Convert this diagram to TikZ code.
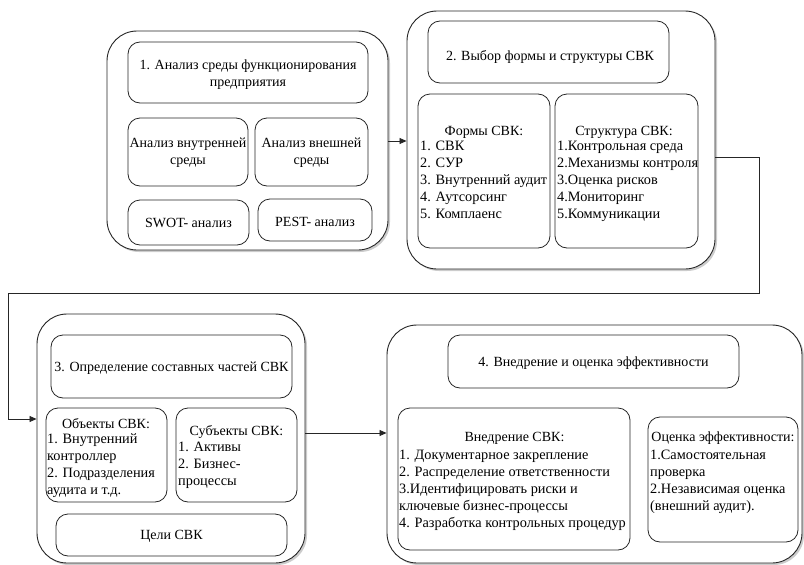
\documentclass[tikz,border=0pt]{standalone}
\usepackage{fontspec}
\setmainfont{Liberation Serif}
\usetikzlibrary{arrows.meta,shadows}
\begin{document}
\begin{tikzpicture}[x=1pt,y=-1pt,
  outerbox/.style={draw=black!85, line width=0.9pt, rounded corners=30pt, fill=white,
    drop shadow={shadow xshift=2pt, shadow yshift=-2pt, fill=black!40}},
  innerbox/.style={draw=black!85, line width=0.8pt, rounded corners=12pt, fill=white},
  lbl/.style={font=\fontsize{14}{17}\selectfont, inner sep=0pt, align=center},
  lst/.style={font=\fontsize{14.3}{17}\selectfont, inner sep=0pt, align=left, anchor=north west},
  flow/.style={draw=black!85, line width=0.8pt, -{Triangle[length=7pt,width=6pt]}}]
\useasboundingbox (0,0) rectangle (804,565);

% stage containers
\node[outerbox, minimum width=281pt, minimum height=219pt] (s1) at (247.5,140.5) {};
\node[outerbox, minimum width=308pt, minimum height=258pt] (s2) at (561,140) {};
\node[outerbox, minimum width=268pt, minimum height=249pt] (s3) at (171,438.5) {};
\node[outerbox, minimum width=415pt, minimum height=238pt] (s4) at (594.5,444) {};

% stage 1
\node[innerbox, minimum width=240pt, minimum height=61pt] (b1t) at (248,72.5) {};
\node[innerbox, minimum width=120pt, minimum height=68pt] (b1a) at (188,152) {};
\node[innerbox, minimum width=113pt, minimum height=68pt] (b1b) at (311.5,152) {};
\node[innerbox, minimum width=121pt, minimum height=45pt] (b1c) at (188.5,222.5) {};
\node[innerbox, minimum width=114pt, minimum height=42pt] (b1d) at (315,220) {};
\node[lbl] (t1t) at (248,75) {1. Анализ среды функционирования\\предприятия};
\node[lbl] (t1a) at (188,153) {Анализ внутренней\\среды};
\node[lbl] (t1b) at (311.5,153) {Анализ внешней\\среды};
\node[lbl] (t1c) at (188.5,223) {SWOT- анализ};
\node[lbl] (t1d) at (315,222) {PEST- анализ};

% stage 2
\node[innerbox, minimum width=241pt, minimum height=62pt] (b2t) at (548.5,52) {};
\node[innerbox, minimum width=132pt, minimum height=154pt] (b2a) at (484,171) {};
\node[innerbox, minimum width=143pt, minimum height=154pt] (b2b) at (626.5,171) {};
\node[lbl] (t2t) at (550,57) {2. Выбор формы и структуры СВК};
\node[lbl] (h2a) at (484,132) {Формы СВК:};
\node[lst] (l2a) at (420,141) {1. СВК\\2. СУР\\3. Внутренний аудит\\4. Аутсорсинг\\5. Комплаенс};
\node[lbl] (h2b) at (624,132) {Структура СВК:};
\node[lst] (l2b) at (557,141) {1.Контрольная среда\\2.Механизмы контроля\\3.Оценка рисков\\4.Мониторинг\\5.Коммуникации};

% stage 3
\node[innerbox, minimum width=241pt, minimum height=63pt] (b3t) at (171.5,366.5) {};
\node[innerbox, minimum width=121pt, minimum height=94pt] (b3a) at (106.5,455) {};
\node[innerbox, minimum width=121pt, minimum height=94pt] (b3b) at (236.5,455) {};
\node[innerbox, minimum width=231pt, minimum height=42pt] (b3c) at (171.5,535) {};
\node[lbl] (t3t) at (171.5,368) {3. Определение составных частей СВК};
\node[lbl] (h3a) at (106,424) {Объекты СВК:};
\node[lst] (l3a) at (47,434) {1. Внутренний\\контроллер\\2. Подразделения\\аудита и т.д.};
\node[lbl] (h3b) at (236.5,432) {Субъекты СВК:};
\node[lst] (l3b) at (178,442) {1. Активы\\2. Бизнес-\\процессы};
\node[lbl] (t3c) at (171.5,536) {Цели СВК};

% stage 4
\node[innerbox, minimum width=291pt, minimum height=53pt] (b4t) at (593.5,361.5) {};
\node[innerbox, minimum width=232pt, minimum height=142pt] (b4a) at (514,479) {};
\node[innerbox, minimum width=150pt, minimum height=125pt] (b4b) at (723,479.5) {};
\node[lbl] (t4t) at (593.5,363) {4. Внедрение и оценка эффективности};
\node[lbl] (h4a) at (514.5,438) {Внедрение СВК:};
\node[lst] (l4a) at (399,450) {1. Документарное закрепление\\2. Распределение ответственности\\3.Идентифицировать риски и\\ключевые бизнес-процессы\\4. Разработка контрольных процедур};
\node[lbl] (h4b) at (723,438) {Оценка эффективности:};
\node[lst] (l4b) at (650,450) {1.Самостоятельная\\проверка\\2.Независимая оценка\\(внешний аудит).};

% connectors between stages
\coordinate (a1) at (0,141);
\coordinate (c1) at (759,157);
\coordinate (r1) at (759,293);
\coordinate (r2) at (8,419);
\coordinate (a2) at (0,433);
\draw[flow] (s1.east |- a1) -- (s2.west |- a1);
\draw[flow] (s2.east |- c1) -- (c1) -- (r1) -| (r2) -- (r2 -| s3.west);
\draw[flow] (s3.east |- a2) -- (s4.west |- a2);
\end{tikzpicture}
\end{document}
